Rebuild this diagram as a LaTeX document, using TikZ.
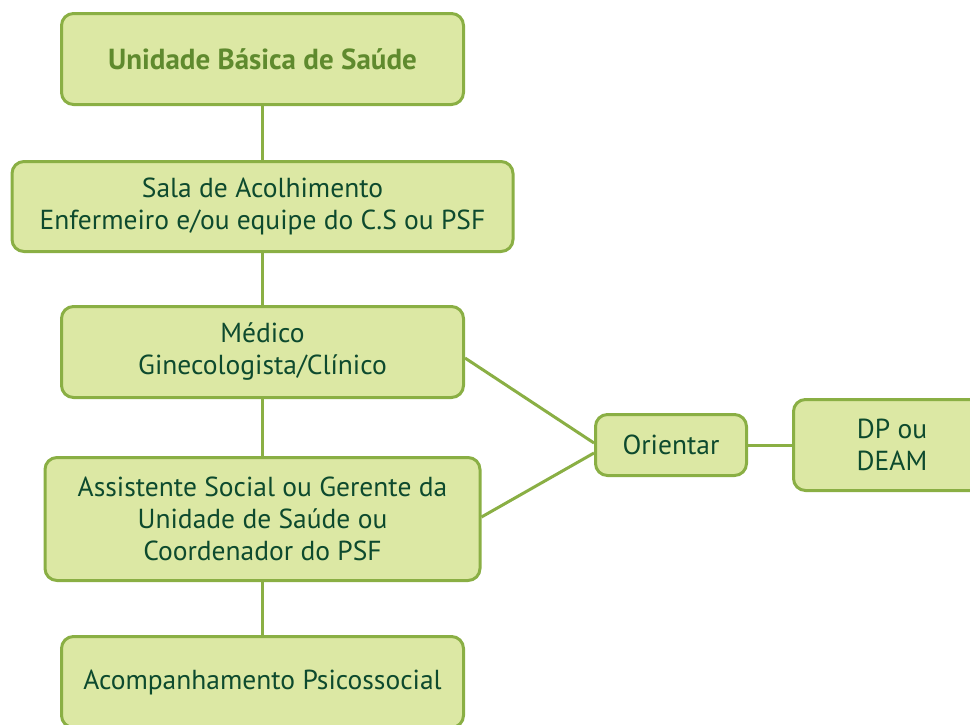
\documentclass[tikz,border=0pt]{standalone}
\usepackage{fontspec}
\setmainfont{PT Sans}
\usetikzlibrary{positioning}
\definecolor{boxfill}{HTML}{DCE8A4}
\definecolor{boxline}{HTML}{8AAF44}
\definecolor{boxtext}{HTML}{0D4A2E}
\definecolor{titletext}{HTML}{5F8A2E}
\begin{document}
\begin{tikzpicture}[x=1pt, y=1pt, line width=3pt,
  main/.style = {draw=boxline, fill=boxfill, rounded corners=12pt, align=center, text=boxtext, font=\fontsize{27.5}{32}\selectfont, minimum width=402pt, minimum height=91pt, inner sep=0pt},
  link/.style = {draw=boxline}]
\useasboundingbox (0,0) rectangle (970,-724);
\node[main, font=\bfseries\fontsize{29}{32}\selectfont, text=titletext] (ubs) at (262.5,-59) {Unidade Básica de Saúde};
\node[main, minimum width=501pt, minimum height=90pt] (sala) [below=54pt of ubs] {Sala de Acolhimento\\Enfermeiro e/ou equipe do C.S ou PSF};
\node[main] (medico) [below=52pt of sala] {Médico\\Ginecologista/Clínico};
\node[main, minimum width=435pt, minimum height=123pt] (assist) [below=57pt of medico] {Assistente Social ou Gerente da\\Unidade de Saúde ou\\Coordenador do PSF};
\node[main] (acomp) [below=53pt of assist] {Acompanhamento Psicossocial};
\node[main, minimum width=151pt, minimum height=61pt] (orientar) at (671,-445) {Orientar};
\node[main, minimum width=197pt] (dp) [right=44pt of orientar] {DP ou\\DEAM};
\draw[link] (ubs) -- (sala);
\draw[link] (sala) -- (medico);
\draw[link] (medico) -- (assist);
\draw[link] (assist) -- (acomp);
\draw[link] ([yshift=-6pt]medico.east) -- ([yshift=2pt]orientar.west);
\draw[link] ([yshift=2pt]assist.east) -- ([yshift=-8pt]orientar.west);
\draw[link] (orientar) -- (dp);
\end{tikzpicture}
\end{document}
